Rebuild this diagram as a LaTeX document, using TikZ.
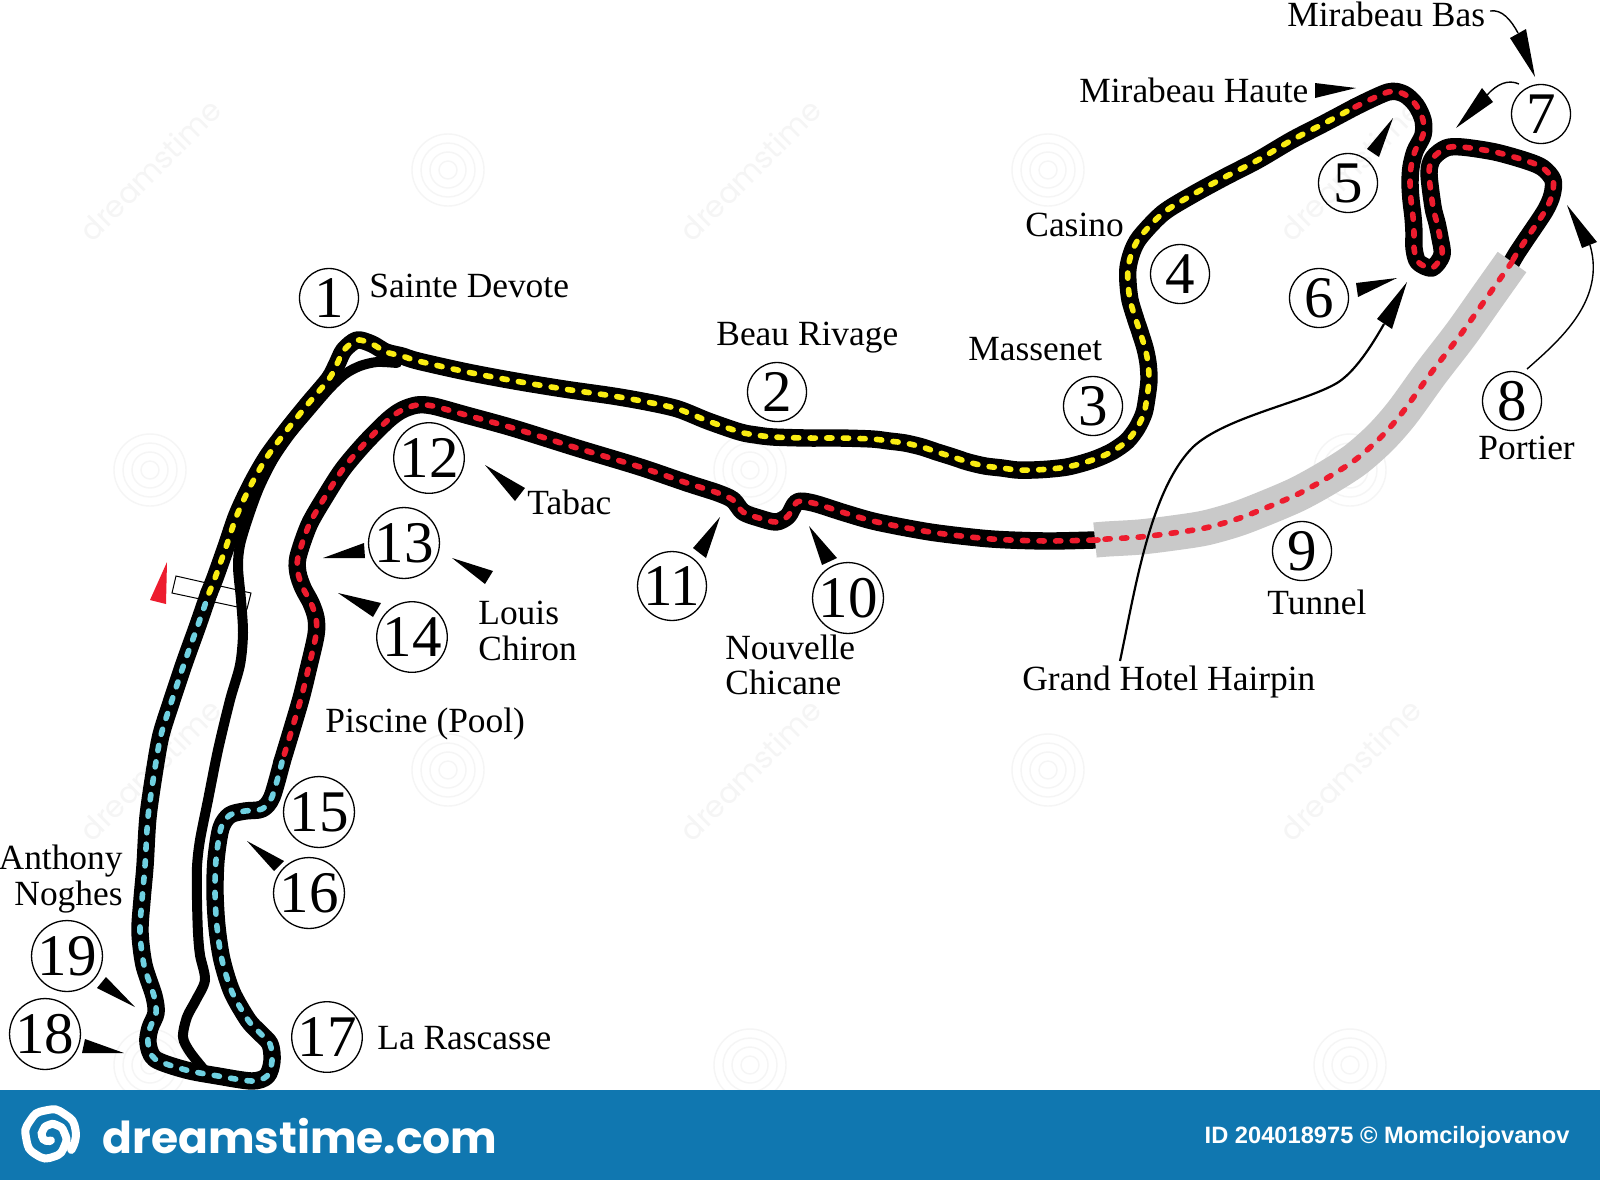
\documentclass[tikz,border=0pt]{standalone}
\usepackage{fontspec}
\setmainfont{Liberation Serif}
\newfontfamily\bannerfont{Poppins}
\newfontfamily\idfont{Liberation Sans}
\definecolor{trkY}{HTML}{F9EC12}
\definecolor{trkR}{HTML}{ED1C2E}
\definecolor{trkC}{HTML}{6FD0E0}
\definecolor{tunG}{HTML}{C9C9C9}
\definecolor{banner}{HTML}{1077B0}
\definecolor{wmk}{HTML}{F5F5F5}
\tikzset{
  blk/.style={draw=black,line width=8.7pt,line cap=round,line join=round},
  pitl/.style={draw=black,line width=5pt,line cap=round,line join=round},
  dsh/.style={draw=#1,line width=2.8pt,line cap=round,dash pattern=on 2.6pt off 5.7pt},
  num/.style={circle,draw=black,line width=0.65pt,inner sep=0pt,minimum size=#1,font=\fontsize{29.5}{30}\selectfont},
  num/.default=29.5pt,
  lab/.style={anchor=west,inner sep=0pt,font=\fontsize{17.7}{17.85}\selectfont},
  wedge/.style={fill=black,draw=none},
  conn/.style={draw=black,line width=0.7pt},
  wmtext/.style={rotate=45,inner sep=0pt,text=wmk,font=\bannerfont\fontsize{15}{15}\selectfont}
}
\newcommand{\segY}[1]{\draw[#1] plot[smooth,tension=.5] coordinates {(209,593)(215,578)(226,547)(237,515)(251,485)(267,457)(287,430)(308,404)(329,379)(337,364)(344,350)(357,340)(372,344)(386,352)(402,356)(418,361)(467,372)(515,381)(564,389)(613,396)(647,402)(678,409)(708,421)(740,432)(756,435)(773,437)(807,438)(839,438)(872,439)(889,441)(905,443)(922,447)(937,452)(953,457)(968,462)(985,466)(1002,468)(1017,470)(1033,470)(1050,469)(1067,467)(1083,463)(1098,458)(1113,451)(1127,441)(1137,428)(1144,413)(1147,397)(1149,380)(1148,363)(1145,348)(1140,332)(1135,317)(1130,300)(1128,283)(1128,268)(1132,252)(1140,237)(1163,213)(1192,195)(1225,177)(1258,160)(1292,140)(1323,124)(1355,107)};}
\newcommand{\segRa}[1]{\draw[#1] plot[smooth,tension=.5] coordinates {(1355,107)(1388,92)(1404,94)(1416,105)(1423,120)(1423,135)(1415,151)(1411,167)(1410,183)(1411,200)(1413,217)(1414,233)(1414,248)(1418,262)(1432,268)(1442,255)(1440,238)(1437,223)(1433,207)(1429,173)(1433,158)(1446,148)(1462,147)(1495,152)(1527,161)(1543,168)(1553,180)(1552,195)(1545,211)(1527,238)(1517,253)(1510,265)};}
\newcommand{\segRb}[1]{\draw[#1] plot[smooth,tension=.5] coordinates {(1094,540)(1050,541)(1010,540)(980,538)(930,532)(877,522)(845,513)(813,503)(797,502)(788,516)(776,522)(759,518)(743,512)(733,500)(718,493)(687,483)(640,467)(577,448)(513,428)(466,415)(433,406)(417,405)(402,410)(388,420)(365,443)(343,469)(325,497)(309,525)(298,557)(298,573)(303,588)(311,603)(316,618)(316,635)(308,670)(300,702)(282,762)};}
\newcommand{\segC}[1]{\draw[#1] plot[smooth,tension=.5] coordinates {(282,762)(272,797)(262,809)(245,811)(230,815)(221,828)(216,860)(215,893)(217,927)(222,960)(232,992)(248,1020)(259,1032)(270,1044)(272,1061)(267,1076)(252,1081)(218,1076)(186,1070)(155,1059)(148,1043)(150,1028)(156,1013)(154,996)(144,965)(140,932)(142,900)(145,866)(148,817)(155,768)(161,735)(171,703)(184,664)(198,625)(209,593)};}
\newcommand{\segT}[1]{\draw[#1] plot[smooth,tension=.5] coordinates {(1512,262)(1490,293)(1461,334)(1431,373)(1402,413)(1380,438)(1355,460)(1327,478)(1298,494)(1268,507)(1237,519)(1205,528)(1173,533)(1140,537)(1107,539)(1095,540)};}
\newcommand{\wmswirl}[2]{\foreach \rr in {36,27,18,9} {\draw[wmk,line width=0.7pt] (#1,#2) circle[radius=\rr];}}
\begin{document}
\begin{tikzpicture}[x=0.5pt,y=-0.5pt]
\useasboundingbox (0,0) rectangle (1600,1180);
\fill[white] (0,0) rectangle (1600,1180);
% faint stock marks
\wmswirl{448}{170}\wmswirl{1048}{170}\wmswirl{150}{470}\wmswirl{750}{470}\wmswirl{1350}{470}\wmswirl{448}{770}\wmswirl{1048}{770}\wmswirl{150}{1065}\wmswirl{750}{1065}\wmswirl{1350}{1065}
\node[wmtext] (w1) at (150,170) {dreamstime};
\node[wmtext] (w2) at (750,170) {dreamstime};
\node[wmtext] (w3) at (1350,170) {dreamstime};
\node[wmtext] (w4) at (150,770) {dreamstime};
\node[wmtext] (w5) at (750,770) {dreamstime};
\node[wmtext] (w6) at (1350,770) {dreamstime};
% start line and flag
\draw[black,line width=0.5pt] (176,576) -- (251,593) -- (247,609) -- (172,593) -- cycle;
\fill[trkR] (167,562) -- (150,600) -- (166,604) -- cycle;
% pit lane
\draw[pitl] plot[smooth,tension=.5] coordinates {(397,363)(377,362)(360,366)(345,374)(330,388)(310,411)(290,435)(273,460)(259,488)(248,518)(240,545)(238,567)(241,600)(243,633)(240,665)(230,700)(218,750)(208,800)(200,840)(197,867)(197,900)(198,933)(200,955)(205,980)(196,1000)(187,1017)(183,1037)(190,1052)(206,1072)};
% track
\segY{blk}\segRa{blk}\segRb{blk}\segC{blk}
\segT{draw=tunG,line width=17.6pt}
\segT{dsh=trkR}
\draw[dsh=trkR] (1098,540) -- (1082,540.5);
\segY{dsh=trkY}\segRa{dsh=trkR}\segRb{dsh=trkR}\segC{dsh=trkC}
% numbers
\node[num] (n1) at (329,298) {1};
\node[num] (n2) at (777,392) {2};
\node[num] (n3) at (1093,406) {3};
\node[num] (n4) at (1180,274) {4};
\node[num] (n5) at (1348,183) {5};
\node[num] (n6) at (1319,298) {6};
\node[num] (n7) at (1541,114) {7};
\node[num] (n8) at (1512,401) {8};
\node[num] (n9) at (1302,551) {9};
\node[num=33pt] (n10) at (848,598) {10};
\node[num=33pt] (n11) at (672,586) {11};
\node[num=33pt] (n12) at (429,458) {12};
\node[num=33pt] (n13) at (404,543) {13};
\node[num=33pt] (n14) at (412,637) {14};
\node[num=33pt] (n15) at (319,812) {15};
\node[num=33pt] (n16) at (309,893) {16};
\node[num=33pt] (n17) at (327,1037) {17};
\node[num=33pt] (n18) at (45,1034) {18};
\node[num=33pt] (n19) at (67,956) {19};
% labels
\node[lab] (lSD) at (369,286) {Sainte Devote};
\node[lab] (lBR) at (716,338) {Beau Rivage};
\node[lab] (lMa) at (968,349) {Massenet};
\node[lab] (lCa) at (1025,225) {Casino};
\node[lab] (lMH) at (1079,90) {Mirabeau Haute};
\node[lab] (lMB) at (1287,14) {Mirabeau Bas};
\node[lab] (lPo) at (1478,448) {Portier};
\node[lab] (lTu) at (1267,602) {Tunnel};
\node[lab] (lGH) at (1022,682) {Grand Hotel Hairpin};
\node[lab,align=left] (lNC) at (725,665) {Nouvelle\\Chicane};
\node[lab,align=left] (lLC) at (478,631) {Louis\\Chiron};
\node[lab] (lTa) at (527,502) {Tabac};
\node[lab] (lPi) at (325,724) {Piscine (Pool)};
\node[lab,anchor=east,align=right] (lAN) at (123,879) {Anthony\\Noghes};
\node[lab] (lLR) at (377,1038) {La Rascasse};
% wedges
\fill[wedge] (1315,83) -- (1356,88) -- (1315,98) -- cycle;
\fill[wedge] (1393,118) -- (1367,149) -- (1379,157) -- cycle;
\fill[wedge] (1397,278) -- (1356,283) -- (1358,297) -- cycle;
\fill[wedge] (1535,77) -- (1510,38) -- (1526,29) -- cycle;
\fill[wedge] (1456,128) -- (1482,88) -- (1493,102) -- cycle;
\fill[wedge] (1567,205) -- (1582,248) -- (1597,242) -- cycle;
\fill[wedge] (1407,282) -- (1377,319) -- (1392,329) -- cycle;
\fill[wedge] (485,465) -- (525,488) -- (515,501) -- cycle;
\fill[wedge] (323,558) -- (364,543) -- (365,558) -- cycle;
\fill[wedge] (452,558) -- (493,571) -- (485,584) -- cycle;
\fill[wedge] (338,593) -- (381,603) -- (373,617) -- cycle;
\fill[wedge] (720,517) -- (693,548) -- (706,558) -- cycle;
\fill[wedge] (809,526) -- (837,558) -- (822,565) -- cycle;
\fill[wedge] (247,841) -- (284,861) -- (274,871) -- cycle;
\fill[wedge] (135,1007) -- (106,977) -- (97,988) -- cycle;
\fill[wedge] (124,1053) -- (85,1039) -- (82,1053) -- cycle;
% curved connectors
\coordinate (hB) at (1518,33);
\coordinate (h7) at (1487,95);
\coordinate (h8) at (1590,245);
\coordinate (hG) at (1384,324);
\coordinate (sB) at (1490,11);
\coordinate (s7) at (1519,84);
\coordinate (s8) at (1527,369);
\coordinate (sG) at (1120,661);
\draw[conn] (sB) .. controls (1502,9) and (1511,20) .. (hB);
\draw[conn] (s7) .. controls (1508,79) and (1497,84) .. (h7);
\draw[conn] (s8) .. controls (1560,340) and (1606,300) .. (h8);
\draw[conn,line width=1.1pt] (sG) .. controls (1135,590) and (1150,490) .. (1193,447) .. controls (1225,417) and (1305,402) .. (1337,383) .. controls (1355,372) and (1372,345) .. (hG);
% banner
\fill[banner] (0,1090) rectangle (1600,1180);
\draw[white,line width=4pt,line cap=round,shift={(50,1135)}] plot[smooth,tension=1] coordinates {(35:26)(-10:26)(-55:25.5)(-100:25)(-145:24.5)(-190:24)(-235:24)(-280:22)(-325:18)(-370:14.5)(-415:12)(-460:10)(-505:8.5)(-550:8)(-595:7)(-640:5.5)};
\node[anchor=west,inner sep=0pt,text=white] (brand) at (102,1136) {\bannerfont\bfseries\fontsize{22}{23}\selectfont dreamstime.com};
\node[anchor=east,inner sep=0pt,text=white] (credit) at (1570,1137) {\idfont\bfseries\fontsize{11.84}{12}\selectfont ID 204018975 © Momcilojovanov};
\end{tikzpicture}
\end{document}
